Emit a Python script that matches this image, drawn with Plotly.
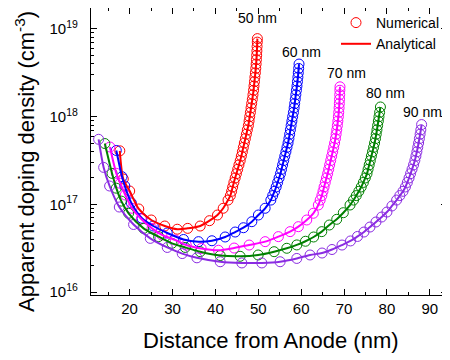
import plotly.graph_objects as go

# ---- data (x: nm, y: cm^-3) ----
thickness_labels = ["50 nm", "60 nm", "70 nm", "80 nm", "90 nm"]

x_50 = [17.72, 18.53, 20.02, 22.14, 25.05, 28.20, 31.11, 33.55, 36.46, 38.63, 40.49, 41.82,
        42.95, 43.49, 43.78, 44.03, 44.31, 44.61, 44.90, 45.20, 45.49, 45.79, 46.05, 46.29,
        46.52, 46.75, 46.99, 47.22, 47.45, 47.69, 47.85, 48.00, 48.16, 48.31, 48.46, 48.61,
        48.76, 48.90, 49.00, 49.11, 49.21, 49.32, 49.42, 49.50, 49.57, 49.63, 49.68, 49.72,
        49.76, 49.79]
n_50 = [4.08e17, 1.95e17, 1.42e17, 8.87e16, 6.64e16, 5.67e16, 5.21e16, 5.33e16, 5.67e16, 6.52e16,
        7.57e16, 9.03e16,
        1.12e17, 1.26e17, 1.41e17, 1.58e17, 1.78e17, 2.00e17, 2.24e17, 2.51e17, 2.82e17, 3.16e17,
        3.55e17, 3.98e17, 4.47e17, 5.01e17, 5.62e17, 6.31e17, 7.08e17, 7.94e17, 8.91e17, 1.00e18,
        1.12e18, 1.26e18, 1.41e18, 1.58e18, 1.78e18, 2.00e18, 2.24e18, 2.51e18, 2.82e18, 3.16e18,
        3.55e18, 3.98e18, 4.47e18, 5.01e18, 5.62e18, 6.31e18, 7.08e18, 7.76e18]

x_60 = [16.90, 18.23, 18.88, 20.40, 22.89, 25.52, 28.78, 32.57, 36.07, 39.19, 42.28, 44.61,
        46.54, 48.50, 50.03, 51.60,
        52.93, 53.36, 53.80, 54.17, 54.51, 54.85, 55.17, 55.42, 55.67, 55.93, 56.18, 56.44,
        56.69, 56.94, 57.14, 57.32, 57.49, 57.66, 57.84, 58.01, 58.19, 58.36, 58.49, 58.62,
        58.76, 58.89, 59.02, 59.13, 59.24, 59.33, 59.42, 59.50]
n_60 = [4.12e17, 2.07e17, 1.62e17, 1.04e17, 6.95e16, 5.67e16, 4.72e16, 3.98e16, 3.76e16, 3.85e16,
        4.25e16, 4.84e16, 5.42e16, 6.35e16, 7.57e16, 9.03e16,
        1.12e17, 1.26e17, 1.41e17, 1.58e17, 1.78e17, 2.00e17, 2.24e17, 2.51e17, 2.82e17, 3.16e17,
        3.55e17, 3.98e17, 4.47e17, 5.01e17, 5.62e17, 6.31e17, 7.08e17, 7.94e17, 8.91e17, 1.00e18,
        1.12e18, 1.26e18, 1.41e18, 1.58e18, 1.78e18, 2.00e18, 2.24e18, 2.51e18, 2.82e18, 3.16e18,
        3.55e18, 3.98e18]

x_70 = [15.41, 16.90, 17.83, 19.00, 20.56, 22.72, 25.22, 27.54, 30.64, 33.20, 36.69, 40.72,
        44.38, 47.87, 51.60, 54.69, 57.42, 59.35, 61.30, 62.84, 64.00,
        64.43, 64.82, 65.09, 65.34, 65.62, 65.90, 66.17, 66.41, 66.64, 66.88, 67.11, 67.35,
        67.58, 67.80, 67.99, 68.15, 68.30, 68.44, 68.56, 68.67, 68.76, 68.84, 68.90, 68.95,
        68.99, 69.02, 69.05]
n_70 = [4.51e17, 2.26e17, 1.74e17, 1.28e17, 9.03e16, 6.82e16, 5.33e16, 4.48e16, 3.93e16, 3.44e16,
        3.14e16, 3.00e16, 3.18e16, 3.44e16, 3.76e16, 4.29e16, 4.89e16, 5.57e16, 6.64e16, 7.92e16,
        9.84e16,
        1.12e17, 1.26e17, 1.41e17, 1.58e17, 1.78e17, 2.00e17, 2.24e17, 2.51e17, 2.82e17, 3.16e17,
        3.55e17, 3.98e17, 4.47e17, 5.01e17, 5.62e17, 6.31e17, 7.08e17, 7.94e17, 8.91e17, 1.00e18,
        1.12e18, 1.26e18, 1.41e18, 1.58e18, 1.78e18, 2.00e18, 2.19e18]

x_80 = [14.23, 15.90, 16.90, 18.07, 19.77, 23.26, 26.75, 29.87, 32.97, 36.46, 41.12, 45.77,
        49.97, 53.69, 56.65, 58.98, 61.00, 62.90, 64.80, 66.57, 68.29, 69.83, 71.39,
        72.20, 72.85, 73.45, 74.00, 74.50, 74.95, 75.35, 75.60, 75.86, 76.12, 76.37, 76.63,
        76.88, 77.11, 77.33, 77.50, 77.67, 77.83, 77.99, 78.14, 78.29, 78.48]
n_80 = [4.94e17, 2.26e17, 1.53e17, 1.09e17, 7.92e16, 5.33e16, 4.29e16, 3.60e16, 3.23e16, 2.89e16,
        2.61e16, 2.56e16, 2.65e16, 2.89e16, 3.16e16, 3.45e16, 3.80e16, 4.25e16, 4.89e16, 5.82e16,
        6.76e16, 8.04e16, 9.84e16,
        1.12e17, 1.26e17, 1.41e17, 1.58e17, 1.78e17, 2.00e17, 2.24e17, 2.51e17, 2.82e17, 3.16e17,
        3.55e17, 3.98e17, 4.47e17, 5.01e17, 5.62e17, 6.31e17, 7.08e17, 7.94e17, 8.91e17, 1.00e18,
        1.12e18, 1.29e18]

x_90 = [12.78, 13.95, 15.34, 17.60, 20.93, 24.82, 28.78, 32.27, 35.69, 41.12, 46.17, 50.83,
        55.09, 58.98, 62.07, 64.87, 67.19, 69.52, 71.50, 73.13, 74.64, 76.04, 77.44, 78.77,
        80.00, 81.16,
        82.25, 83.00, 83.75, 84.30, 84.75, 85.15, 85.50, 85.85, 86.20, 86.50, 86.75, 86.98,
        87.18, 87.38, 87.56, 87.73, 87.90, 88.08]
n_90 = [5.52e17, 2.64e17, 1.62e17, 9.33e16, 5.90e16, 4.10e16, 3.23e16, 2.75e16, 2.46e16, 2.22e16,
        2.15e16, 2.15e16, 2.22e16, 2.42e16, 2.65e16, 2.79e16, 3.06e16, 3.44e16, 3.83e16, 4.31e16,
        4.84e16, 5.52e16, 6.30e16, 7.18e16, 8.18e16, 9.59e16,
        1.12e17, 1.26e17, 1.41e17, 1.58e17, 1.78e17, 2.00e17, 2.24e17, 2.51e17, 2.82e17, 3.16e17,
        3.55e17, 3.98e17, 4.47e17, 5.01e17, 5.62e17, 6.31e17, 7.08e17, 8.13e17]

# label anchor positions (x in nm, y as log10 of density)
label_x = [49.73, 60.14, 70.62, 79.77, 88.38]
label_logy = [19.13, 18.74, 18.495, 18.274, 18.057]

ytick_vals = [1e16, 1e17, 1e18, 1e19]
ytick_text = ["10<sup>16</sup>", "10<sup>17</sup>", "10<sup>18</sup>", "10<sup>19</sup>"]

x_title = "Distance from Anode (nm)"
y_title = "Apparent doping density (cm<sup>-3</sup>)"

series = [(x_50, n_50, "#ff0000"), (x_60, n_60, "#0000ff"), (x_70, n_70, "#ff00ff"),
          (x_80, n_80, "#008000"), (x_90, n_90, "#8a2be2")]

FONT = "Liberation Sans, Arial, sans-serif"

# the page shows the figure with an 8px body offset; the figure is sized to fit
W, H = 442, 352
L, R, T, B = 83, 3, 0, 65
PW, PH = W - L - R, H - T - B

fig = go.Figure()
for i, (xs, ys, col) in enumerate(series):
    fig.add_trace(go.Scatter(
        x=xs, y=ys, mode="markers",
        marker=dict(symbol="circle-open", size=10, color=col, line=dict(width=1, color=col)),
        name="Numerical", showlegend=(i == 0), legendrank=1))
for i, (xs, ys, col) in enumerate(series):
    fig.add_trace(go.Scatter(
        x=xs, y=ys, mode="lines", line=dict(color=col, width=2, shape="spline", smoothing=0.8),
        name="Analytical", showlegend=(i == 0), legendrank=2))

for lx, ly, txt in zip(label_x, label_logy, thickness_labels):
    fig.add_annotation(x=lx, y=ly, text=txt, showarrow=False,
                       font=dict(family=FONT, size=14, color="black"))

# axis titles placed as annotations (paper coords) for exact placement
fig.add_annotation(xref="paper", yref="paper", x=(263 - L) / PW, y=(T + PH - 332) / PH,
                   text=x_title, showarrow=False, xanchor="center", yanchor="middle",
                   font=dict(family=FONT, size=22, color="black"))
fig.add_annotation(xref="paper", yref="paper", x=(17 - L) / PW, y=(T + PH - 154) / PH,
                   text=y_title, showarrow=False, textangle=-90, xanchor="center",
                   yanchor="middle", font=dict(family=FONT, size=22, color="black"))

axis_common = dict(showline=True, linecolor="black", linewidth=1.3, mirror="allticks",
                   ticks="inside", ticklen=6, tickwidth=1.3, tickcolor="black",
                   showgrid=False, zeroline=False, automargin=False,
                   tickfont=dict(family=FONT, size=15, color="black"))

fig.update_layout(
    width=W, height=H,
    margin=dict(l=L, r=R, t=T, b=B, autoexpand=False),
    paper_bgcolor="white", plot_bgcolor="white",
    font=dict(family=FONT, color="black"),
    legend=dict(x=(328 - L) / PW, y=1 + 1 / PH, xanchor="left", yanchor="top",
                bgcolor="rgba(0,0,0,0)", font=dict(family=FONT, size=14, color="black"),
                itemwidth=30, tracegroupgap=0),
    xaxis=dict(range=[11, 94], dtick=10, tick0=0,
               minor=dict(ticks="inside", ticklen=3, dtick=5, tickcolor="black", tickwidth=1),
               **axis_common),
    yaxis=dict(type="log", range=[15.967, 19.239], tickvals=ytick_vals, ticktext=ytick_text,
               ticklabelstandoff=9,
               minor=dict(ticks="inside", ticklen=3, dtick="D1", tickcolor="black", tickwidth=1),
               **axis_common),
)

fig.write_html("out.html")
